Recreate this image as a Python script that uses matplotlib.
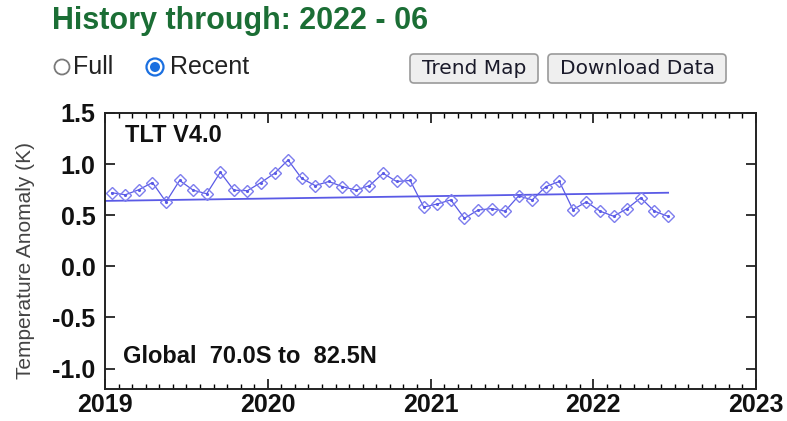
import numpy as np
import matplotlib.pyplot as plt
from matplotlib.patches import Circle, FancyBboxPatch
from matplotlib.ticker import MultipleLocator, FixedLocator

plt.rcParams['font.family'] = ['Liberation Sans', 'DejaVu Sans']
plt.rcParams['axes.unicode_minus'] = False

# monthly TLT anomalies, 2019-01 .. 2022-06
start_year = 2019
anom = [0.72, 0.70, 0.75, 0.82, 0.63, 0.84, 0.745, 0.71, 0.92, 0.745, 0.74, 0.82,
        0.91, 1.04, 0.86, 0.79, 0.83, 0.78, 0.745, 0.79, 0.91, 0.83, 0.84, 0.58,
        0.61, 0.65, 0.47, 0.55, 0.565, 0.54, 0.69, 0.65, 0.78, 0.83, 0.555, 0.63,
        0.54, 0.49, 0.565, 0.67, 0.54, 0.49]
trend_years = [2019.0, 2022.46]
trend_vals = [0.64, 0.72]

year_ticks = [2019, 2020, 2021, 2022, 2023]
y_ticks = [1.5, 1.0, 0.5, 0.0, -0.5, -1.0]
y_labels = ["1.5", "1.0", "0.5", "0.0", "-0.5", "-1.0"]

months = np.arange(len(anom))
t = start_year + (months + 0.5) / 12.0

W, H = 787, 421
fig = plt.figure(figsize=(W / 100, H / 100), dpi=100)

# page elements in pixel coordinates
page = fig.add_axes([0, 0, 1, 1], zorder=0)
page.set_xlim(0, W)
page.set_ylim(H, 0)
page.axis('off')

page.text(52, 21, "History through: 2022 - 06", fontsize=22, fontweight='bold',
          color='#1b6e35', va='center', ha='left')

page.add_patch(Circle((62, 67), 7.5, fill=False, ec='#7a7a7a', lw=1.3))
page.text(73, 67, "Full", fontsize=18, va='center', ha='left', color='#222222')
page.add_patch(Circle((155, 67), 8.5, fill=False, ec='#1a6fe0', lw=1.6))
page.add_patch(Circle((155, 67), 5, fc='#1a6fe0', ec='none'))
page.text(170, 67, "Recent", fontsize=18, va='center', ha='left', color='#222222')

for x0, w, label in [(410, 128, "Trend Map"), (548, 178, "Download Data")]:
    page.add_patch(FancyBboxPatch((x0, 54), w, 29, boxstyle="round,pad=0,rounding_size=4",
                                  fc='#efefef', ec='#9a9a9a', lw=1.2))
    page.text(x0 + w / 2, 69, label, fontsize=14.5, family='DejaVu Sans',
              va='center', ha='center', color='#1a1a2a')

# chart
ax = fig.add_axes([105 / W, 32 / H, 651 / W, 276 / H], zorder=1)
ax.patch.set_alpha(0)
ax.plot(trend_years, trend_vals, color='#5a5ae6', lw=1.3)
ax.plot(t, anom, color='#5a5ae6', lw=0.9, marker='.', markersize=2.5)
ax.plot(t, anom, ls='none', marker='D', markersize=6.5, mfc='none',
        mec='#7d7dee', mew=1.0)

ax.set_xlim(2019, 2023)
ax.set_ylim(-1.2, 1.5)
ax.xaxis.set_major_locator(FixedLocator(year_ticks))
ax.xaxis.set_minor_locator(MultipleLocator(1 / 12))
ax.set_xticklabels([str(y) for y in year_ticks])
ax.set_yticks(y_ticks)
ax.set_yticklabels(y_labels)
ax.tick_params(axis='both', which='major', direction='in', top=True, right=True,
               length=7, width=1.2, labelsize=18, colors='#111111')
ax.tick_params(axis='x', which='minor', direction='in', top=True, length=3.5, width=1.0)
ax.tick_params(axis='y', which='major', pad=7)
ax.tick_params(axis='x', which='major', pad=3)
for lab in ax.get_xticklabels() + ax.get_yticklabels():
    lab.set_fontweight('bold')
for sp in ax.spines.values():
    sp.set_linewidth(1.4)
    sp.set_color('#222222')

ax.set_ylabel("Temperature Anomaly (K)", fontsize=15, color='#444444')
ax.yaxis.set_label_coords(-0.108, 0.467)

ax.text(0.0307, 0.92, "TLT V4.0", transform=ax.transAxes, fontsize=17,
        fontweight='bold', va='center', ha='left', color='#111111')
ax.text(0.0276, 0.116, "Global  70.0S to  82.5N", transform=ax.transAxes, fontsize=17,
        fontweight='bold', va='center', ha='left', color='#111111')

fig.savefig("out.png", dpi=100)
